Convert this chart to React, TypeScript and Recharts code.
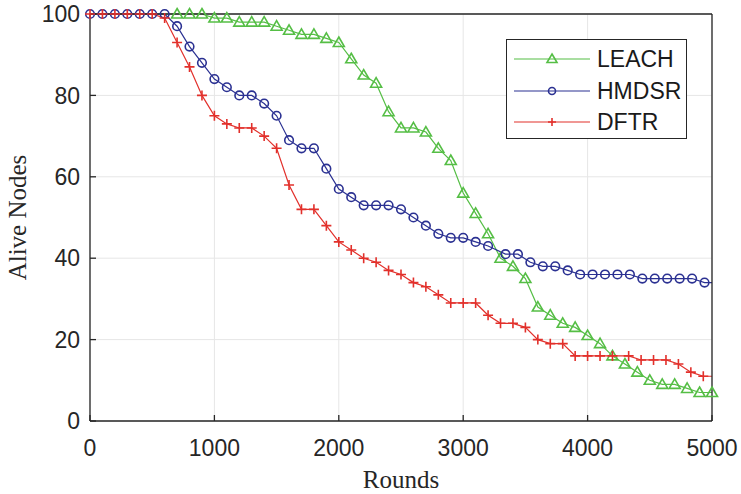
import React from 'react';
import { LineChart, Line, XAxis, YAxis, CartesianGrid, Legend } from 'recharts';

const GREEN = '#55be45';
const BLUE = '#2b3192';
const RED = '#e2302b';
const INK = '#262626';
const SANS = '"Liberation Sans", Arial, Helvetica, sans-serif';
const SERIF = '"Liberation Serif", "Times New Roman", serif';

// rounds / alive nodes (marker positions)
const leachRounds = [
  0, 100, 200, 300, 400, 500, 600, 700, 800, 900, 1000, 1100, 1200, 1300, 1400, 1500, 1600,
  1700, 1800, 1900, 2000, 2100, 2200, 2300, 2400, 2500, 2600, 2700, 2800, 2900, 3000, 3100,
  3200, 3300, 3400, 3500, 3600, 3700, 3800, 3900, 4000, 4100, 4200, 4300, 4400, 4500, 4600,
  4700, 4800, 4900, 5000,
];
const leachAlive = [
  100, 100, 100, 100, 100, 100, 100, 100, 100, 100, 99, 99, 98, 98, 98, 97, 96,
  95, 95, 94, 93, 89, 85, 83, 76, 72, 72, 71, 67, 64, 56, 51,
  46, 40, 38, 35, 28, 26, 24, 23, 21, 19, 16, 14, 12, 10, 9,
  9, 8, 7, 7,
];

const hmdsrRounds = [
  0, 100, 200, 300, 400, 500, 600, 700, 800, 900, 1000, 1100, 1200, 1300, 1400, 1500, 1600,
  1700, 1800, 1900, 2000, 2100, 2200, 2300, 2400, 2500, 2600, 2700, 2800, 2900, 3000, 3100,
  3200, 3340, 3440, 3540, 3640, 3740, 3840, 3940, 4040, 4140, 4240, 4340, 4440, 4540, 4640,
  4740, 4840, 4940, 5000,
];
const hmdsrAlive = [
  100, 100, 100, 100, 100, 100, 100, 97, 92, 88, 84, 82, 80, 80, 78, 75, 69,
  67, 67, 62, 57, 55, 53, 53, 53, 52, 50, 48, 46, 45, 45, 44,
  43, 41, 41, 39, 38, 38, 37, 36, 36, 36, 36, 36, 35, 35, 35,
  35, 35, 34, 34,
];

const dftrRounds = [
  0, 100, 200, 300, 400, 500, 600, 700, 800, 900, 1000, 1100, 1200, 1300, 1400, 1500, 1600,
  1700, 1800, 1900, 2000, 2100, 2200, 2300, 2400, 2500, 2600, 2700, 2800, 2900, 3000, 3100,
  3200, 3300, 3400, 3500, 3600, 3700, 3800, 3900, 4000, 4100, 4200, 4330, 4430, 4530, 4630,
  4730, 4830, 4930, 5000,
];
const dftrAlive = [
  100, 100, 100, 100, 100, 100, 99, 93, 87, 80, 75, 73, 72, 72, 70, 67, 58,
  52, 52, 48, 44, 42, 40, 39, 37, 36, 34, 33, 31, 29, 29, 29,
  26, 24, 24, 23, 20, 19, 19, 16, 16, 16, 16, 16, 15, 15, 15,
  14, 12, 11, 11,
];

const xTicks = [0, 1000, 2000, 3000, 4000, 5000];
const yTicks = [0, 20, 40, 60, 80, 100];

const toRows = (rounds: number[], alive: number[]) =>
  rounds.map((round, i) => ({ round, alive: alive[i] }));

const leachData = toRows(leachRounds, leachAlive);
const hmdsrData = toRows(hmdsrRounds, hmdsrAlive);
const dftrData = toRows(dftrRounds, dftrAlive);

const TriangleDot = (p: any) => {
  const { cx, cy, index } = p;
  if (cx == null || index < 7) return <g key={`lt-${index}`} />;
  return (
    <path
      key={`lt-${index}`}
      d={`M${cx},${cy - 5.5}L${cx + 5.5},${cy + 4}L${cx - 5.5},${cy + 4}Z`}
      fill="none"
      stroke={GREEN}
      strokeWidth={1.6}
    />
  );
};

const CircleDot = (p: any) => {
  const { cx, cy, index } = p;
  if (cx == null || index === hmdsrData.length - 1) return <g key={`hc-${index}`} />;
  return <circle key={`hc-${index}`} cx={cx} cy={cy} r={4.3} fill="none" stroke={BLUE} strokeWidth={1.6} />;
};

const PlusDot = (p: any) => {
  const { cx, cy, index } = p;
  if (cx == null || index === dftrData.length - 1) return <g key={`dp-${index}`} />;
  return (
    <path
      key={`dp-${index}`}
      d={`M${cx - 5},${cy}H${cx + 5}M${cx},${cy - 5}V${cy + 5}`}
      stroke={RED}
      strokeWidth={1.6}
    />
  );
};

const legendItems = [
  { name: 'LEACH', color: GREEN, mark: 'tri' },
  { name: 'HMDSR', color: BLUE, mark: 'circle' },
  { name: 'DFTR', color: RED, mark: 'plus' },
];

const LegendBox = () => (
  <div
    style={{
      position: 'relative',
      width: 181,
      height: 100,
      boxSizing: 'border-box',
      border: `1px solid ${INK}`,
      background: '#fff',
    }}
  >
    {legendItems.map((it, i) => {
      const cy = 19 + i * 31.5;
      return (
        <div key={it.name} style={{ position: 'absolute', left: 0, top: cy - 15, height: 30, width: 181 }}>
          <svg width={90} height={30} style={{ position: 'absolute', left: 0, top: 0 }}>
            <line x1={7} x2={83} y1={15} y2={15} stroke={it.color} strokeWidth={1.2} />
            {it.mark === 'tri' && (
              <path d="M45,10L50,18.5L40,18.5Z" fill="none" stroke={it.color} strokeWidth={1.6} />
            )}
            {it.mark === 'circle' && <circle cx={45} cy={15} r={3.5} fill="none" stroke={it.color} strokeWidth={1.6} />}
            {it.mark === 'plus' && <path d="M41,15H49M45,11V19" stroke={it.color} strokeWidth={1.6} />}
          </svg>
          <span
            style={{
              position: 'absolute',
              left: 90,
              top: 0,
              lineHeight: '30px',
              fontFamily: SANS,
              fontSize: 23,
              color: '#1a1a1a',
            }}
          >
            {it.name}
          </span>
        </div>
      );
    })}
  </div>
);

export default function App() {
  return (
    <div style={{ position: 'absolute', left: 0, top: 0, width: 741, height: 494, background: '#fff' }}>
      <LineChart width={741} height={494} margin={{ top: 14, right: 29, bottom: 0, left: 0 }}>
        <CartesianGrid stroke="#e6e6e6" strokeWidth={1} />
        <XAxis
          dataKey="round"
          type="number"
          domain={[0, 5000]}
          ticks={xTicks}
          interval={0}
          height={73}
          tickSize={-6}
          tickMargin={25}
          tick={{ fontSize: 23, fill: INK, fontFamily: SANS }}
          axisLine={{ stroke: INK, strokeWidth: 1.3 }}
          tickLine={{ stroke: INK, strokeWidth: 1.3 }}
          label={{
            value: 'Rounds',
            position: 'insideBottom',
            offset: 6,
            style: { fontFamily: SERIF, fontSize: 25, fill: INK },
          }}
        />
        <XAxis
          xAxisId="top"
          orientation="top"
          mirror
          type="number"
          domain={[0, 5000]}
          ticks={xTicks}
          interval={0}
          tick={false}
          tickSize={6}
          axisLine={{ stroke: INK, strokeWidth: 1.3 }}
          tickLine={{ stroke: INK, strokeWidth: 1.3 }}
        />
        <YAxis
          type="number"
          domain={[0, 100]}
          ticks={yTicks}
          interval={0}
          width={90}
          tickSize={-6}
          tickMargin={16}
          tick={{ fontSize: 23, fill: INK, fontFamily: SANS }}
          axisLine={{ stroke: INK, strokeWidth: 1.3 }}
          tickLine={{ stroke: INK, strokeWidth: 1.3 }}
          label={{
            value: 'Alive Nodes',
            angle: -90,
            position: 'insideLeft',
            offset: 17,
            style: { fontFamily: SERIF, fontSize: 25, fill: INK, textAnchor: 'middle' },
          }}
        />
        <YAxis
          yAxisId="right"
          orientation="right"
          mirror
          type="number"
          domain={[0, 100]}
          ticks={yTicks}
          interval={0}
          tick={false}
          tickSize={6}
          axisLine={{ stroke: INK, strokeWidth: 1.3 }}
          tickLine={{ stroke: INK, strokeWidth: 1.3 }}
        />
        <Legend
          layout="horizontal"
          verticalAlign="middle"
          align="center"
          wrapperStyle={{ left: 506, top: 39, width: 181 }}
          content={() => <LegendBox />}
        />
        <Line
          data={leachData}
          dataKey="alive"
          name="LEACH"
          type="linear"
          stroke={GREEN}
          strokeWidth={1.2}
          dot={TriangleDot}
          activeDot={false}
          isAnimationActive={false}
        />
        <Line
          data={hmdsrData}
          dataKey="alive"
          name="HMDSR"
          type="linear"
          stroke={BLUE}
          strokeWidth={1.2}
          dot={CircleDot}
          activeDot={false}
          isAnimationActive={false}
        />
        <Line
          data={dftrData}
          dataKey="alive"
          name="DFTR"
          type="linear"
          stroke={RED}
          strokeWidth={1.2}
          dot={PlusDot}
          activeDot={false}
          isAnimationActive={false}
        />
      </LineChart>
    </div>
  );
}
